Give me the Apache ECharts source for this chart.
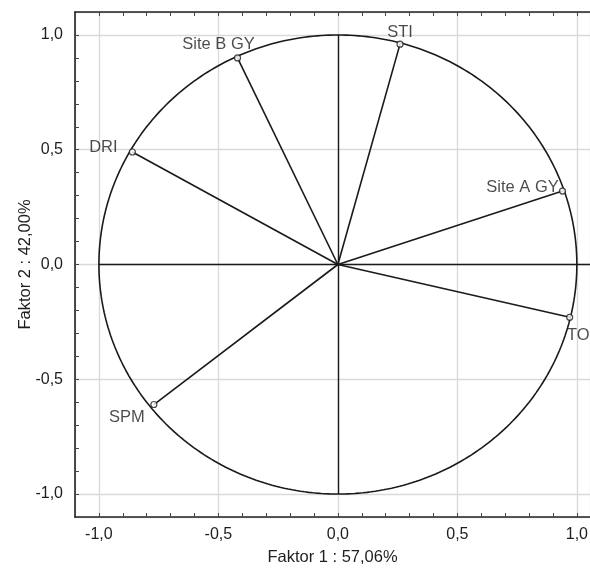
<!DOCTYPE html>
<html>
<head>
<meta charset="utf-8">
<script src="https://cdn.jsdelivr.net/npm/echarts@6/dist/echarts.min.js"></script>
<style>
  html, body { margin: 0; padding: 0; background: #fff; }
  #chart { width: 590px; height: 568px; }
</style>
</head>
<body>
<div id="chart"></div>
<script>
// variables (loadings on factor 1 / factor 2)
let names = ['Site B GY', 'STI', 'DRI', 'Site A GY', 'TOI', 'SPM'];
let faktor1 = [-0.42, 0.26, -0.86, 0.94, 0.97, -0.77];
let faktor2 = [0.90, 0.96, 0.49, 0.32, -0.23, -0.61];

// axis ticks / labels
let labelValues = [-1.0, -0.5, 0.0, 0.5, 1.0];
let tickValues = [-1.0, -0.9, -0.8, -0.7, -0.6, -0.5, -0.4, -0.3, -0.2, -0.1, 0.0,
    0.1, 0.2, 0.3, 0.4, 0.5, 0.6, 0.7, 0.8, 0.9, 1.0];

(function () {
    let chart = echarts.init(document.getElementById('chart'));

    // the right part of the plot is cut off by the picture edge
    let xMin = -1.1, xMax = 1.055;
    let yMin = -1.1, yMax = 1.1;

    // label placement around each point
    let labelOffset = {
        'Site B GY': [-19, -13],
        'STI': [0, -12],
        'DRI': [-29, -5],
        'Site A GY': [-40, -4],
        'TOI': [11, 18],
        'SPM': [-27, 13]
    };

    // unit circle
    let circle = [];
    for (let a = 0; a <= 360; a += 1) {
        let r = a * Math.PI / 180;
        circle.push([Math.cos(r), Math.sin(r)]);
    }

    let fmt = function (v) {
        return Number(v).toFixed(1).replace('.', ',');
    };

    let tickFont = {color: '#1e1e1e', fontFamily: 'Liberation Sans', fontSize: 16};
    let nameFont = {color: '#1e1e1e', fontFamily: 'Liberation Sans', fontSize: 16.5};

    let line = {show: true, onZero: false, lineStyle: {color: '#222', width: 1.6}};
    let ticks = {show: true, inside: true, length: 4, customValues: tickValues,
        lineStyle: {color: '#444'}};
    let grid = {show: true, lineStyle: {color: '#d9d9d9', width: 1.3}};

    // axis that only draws grid lines
    let gridOnly = function (pos, lo, hi) {
        return {
            type: 'value', position: pos, min: lo, max: hi, splitNumber: 5,
            axisLine: {show: false}, axisTick: {show: false}, axisLabel: {show: false},
            splitLine: grid
        };
    };

    let option = {
        backgroundColor: '#fff',
        animation: false,
        grid: {left: 75, right: 0, top: 12, bottom: 51, outerBoundsMode: 'none'},
        xAxis: [
            {
                type: 'value', position: 'bottom', min: xMin, max: xMax,
                name: 'Faktor 1 : 57,06%',
                nameLocation: 'middle',
                nameGap: 32,
                nameMoveOverlap: false,
                nameTextStyle: nameFont,
                axisLine: line,
                axisTick: ticks,
                axisLabel: Object.assign({margin: 10, customValues: labelValues, formatter: fmt}, tickFont),
                splitLine: {show: false}
            },
            {
                type: 'value', position: 'top', min: xMin, max: xMax,
                axisLine: line,
                axisTick: ticks,
                axisLabel: {show: false},
                splitLine: {show: false}
            },
            gridOnly('bottom', xMin, xMax)
        ],
        yAxis: [
            {
                type: 'value', position: 'left', min: yMin, max: yMax,
                name: 'Faktor 2 : 42,00%',
                nameLocation: 'middle',
                nameGap: 41,
                nameMoveOverlap: false,
                nameTextStyle: nameFont,
                axisLine: line,
                axisTick: ticks,
                axisLabel: Object.assign({margin: 12, customValues: labelValues, formatter: fmt}, tickFont),
                splitLine: {show: false}
            },
            gridOnly('right', yMin, yMax)
        ],
        series: [
            {
                name: 'circle',
                type: 'line',
                data: circle,
                showSymbol: false,
                silent: true,
                lineStyle: {color: '#1a1a1a', width: 1.6}
            },
            {
                name: 'cross',
                type: 'lines',
                coordinateSystem: 'cartesian2d',
                silent: true,
                lineStyle: {color: '#1a1a1a', width: 1.4, opacity: 1},
                data: [
                    {coords: [[-1.0, 0], [xMax, 0]]},
                    {coords: [[0, -1.0], [0, 1.0]]}
                ]
            },
            {
                name: 'vectors',
                type: 'lines',
                coordinateSystem: 'cartesian2d',
                silent: true,
                lineStyle: {color: '#1a1a1a', width: 1.6, opacity: 1},
                data: names.map(function (n, i) {
                    return {coords: [[0, 0], [faktor1[i], faktor2[i]]]};
                })
            },
            {
                name: 'points',
                type: 'scatter',
                symbol: 'circle',
                symbolSize: 6,
                z: 5,
                itemStyle: {color: '#fff', borderColor: '#1a1a1a', borderWidth: 1.2},
                label: {
                    show: true,
                    position: 'inside',
                    formatter: '{b}',
                    color: '#1e1e1e',
                    fontFamily: 'Liberation Sans',
                    fontSize: 16.5
                },
                data: names.map(function (n, i) {
                    return {
                        name: n,
                        value: [faktor1[i], faktor2[i]],
                        label: {offset: labelOffset[n]}
                    };
                })
            }
        ]
    };

    chart.setOption(option);
})();
</script>
</body>
</html>
